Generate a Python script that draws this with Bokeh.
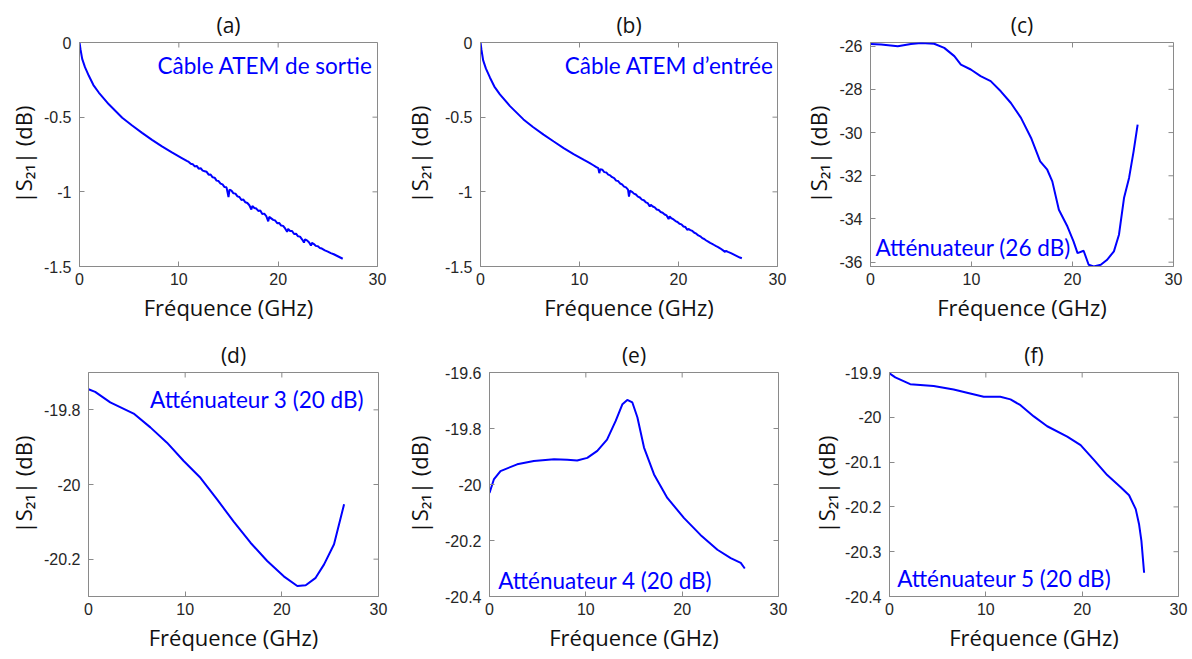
import math
from bokeh.plotting import figure
from bokeh.layouts import column, row
from bokeh.models import FixedTicker, Label
from bokeh.embed import file_html
from bokeh.resources import INLINE

# ---------------- data ----------------
x_ticks = [0, 10, 20, 30]
x_label = "Fréquence (GHz)"
y_label = "|S₂₁| (dB)"
panel_titles = ["(a)", "(b)", "(c)", "(d)", "(e)", "(f)"]
annotations = ["Câble ATEM de sortie", "Câble ATEM d’entrée", "Atténuateur (26 dB)",
               "Atténuateur 3 (20 dB)", "Atténuateur 4 (20 dB)", "Atténuateur 5 (20 dB)"]

a_freq = [0, 0.1, 0.27, 0.55, 0.94, 1.4, 1.94, 2.95, 4.3, 5.3, 6.3, 7.3, 8.3, 9.3, 10.3, 10.8,
          11.0, 11.2, 11.4, 11.6, 11.8, 12.0, 12.2, 12.4, 12.6, 12.8, 13.0, 13.2, 13.4, 13.6,
          13.8, 14.0, 14.2, 14.4, 14.6, 14.8, 15.0, 15.1, 15.3, 15.5, 15.7, 15.9, 16.1, 16.3,
          16.5, 16.7, 16.9, 17.1, 17.3, 17.4, 17.6, 17.8, 18.0, 18.2, 18.4, 18.6, 18.8, 19.0,
          19.1, 19.3, 19.5, 19.7, 19.9, 20.1, 20.3, 20.5, 20.7, 20.9, 21.0, 21.2, 21.4, 21.6,
          21.8, 22.0, 22.2, 22.4, 22.6, 22.7, 22.9, 23.1, 23.3, 23.4, 23.6, 23.8, 24.0, 24.2,
          24.4, 24.7, 25.0, 25.3, 25.6, 25.9, 26.2, 26.5]
a_s21 = [0, -0.045, -0.11, -0.165, -0.223, -0.285, -0.335, -0.414, -0.504, -0.556, -0.605,
         -0.652, -0.696, -0.736, -0.774, -0.793,
         -0.800, -0.812, -0.815, -0.830, -0.826, -0.845, -0.842, -0.858, -0.862, -0.866,
         -0.885, -0.884, -0.903, -0.905, -0.925, -0.928, -0.945, -0.950, -0.968, -0.970,
         -1.035, -0.985, -0.992, -1.010, -1.012, -1.030, -1.035, -1.055, -1.052, -1.070,
         -1.075, -1.090, -1.118, -1.095, -1.108, -1.112, -1.128, -1.125, -1.148, -1.146,
         -1.162, -1.198, -1.168, -1.178, -1.188, -1.192, -1.210, -1.208, -1.226, -1.228,
         -1.245, -1.268, -1.248, -1.262, -1.262, -1.282, -1.280, -1.298, -1.300, -1.318,
         -1.340, -1.318, -1.325, -1.338, -1.360, -1.342, -1.350, -1.362, -1.365, -1.376,
         -1.380, -1.392, -1.400, -1.410, -1.418, -1.428, -1.438, -1.448]

b_freq = [0, 0.1, 0.27, 0.55, 0.95, 1.4, 1.96, 2.98, 4.34, 5.3, 6.37, 7.4, 8.4, 9.4, 10.45,
          11.0, 11.4, 11.7, 11.9, 12.0, 12.1, 12.3, 12.5, 12.7, 12.9, 13.1, 13.3, 13.5, 13.7,
          13.9, 14.1, 14.3, 14.5, 14.7, 14.9, 15.0, 15.1, 15.3, 15.5, 15.7, 15.9, 16.1, 16.3,
          16.5, 16.7, 16.9, 17.1, 17.2, 17.4, 17.6, 17.8, 18.0, 18.2, 18.4, 18.6, 18.8, 19.0,
          19.1, 19.3, 19.5, 19.7, 19.9, 20.1, 20.3, 20.5, 20.7, 20.9, 21.0, 21.2, 21.4, 21.6,
          21.8, 22.0, 22.2, 22.4, 22.6, 22.8, 23.0, 23.2, 23.4, 23.6, 23.8, 24.0, 24.2, 24.5,
          24.7, 24.8, 25.0, 25.3, 25.6, 25.9, 26.2, 26.4]
b_s21 = [0, -0.05, -0.12, -0.175, -0.234, -0.295, -0.347, -0.426, -0.515, -0.566, -0.617,
         -0.663, -0.707, -0.747, -0.786,
         -0.806, -0.822, -0.835, -0.842, -0.875, -0.848, -0.852, -0.868, -0.870, -0.885,
         -0.890, -0.902, -0.908, -0.925, -0.928, -0.944, -0.950, -0.965, -0.970, -0.985,
         -1.032, -0.992, -1.000, -1.012, -1.018, -1.032, -1.038, -1.052, -1.056, -1.070,
         -1.076, -1.098, -1.086, -1.098, -1.104, -1.118, -1.122, -1.135, -1.140, -1.152,
         -1.158, -1.182, -1.165, -1.178, -1.185, -1.196, -1.202, -1.214, -1.218, -1.232,
         -1.236, -1.256, -1.248, -1.256, -1.262, -1.274, -1.280, -1.292, -1.298, -1.310,
         -1.316, -1.326, -1.334, -1.342, -1.348, -1.356, -1.364, -1.370, -1.378, -1.392,
         -1.402, -1.396, -1.402, -1.410, -1.420, -1.430, -1.440, -1.445]

c_freq = [0, 1.05, 2.7, 4.0, 5.0, 6.3, 7.3, 8.3, 8.95, 9.93, 10.9, 11.9, 12.9, 13.9, 14.9,
          15.9, 16.8, 17.5, 18.0, 18.65, 19.5, 20.1, 20.5, 21.1, 21.6, 22.1, 22.8, 23.4, 24.1,
          24.6, 25.1, 25.6, 26.05, 26.45]
c_s21 = [-25.9, -25.92, -26.0, -25.9, -25.85, -25.89, -26.08, -26.46, -26.85, -27.08, -27.39,
         -27.62, -28.09, -28.63, -29.32, -30.25, -31.33, -31.72, -32.26, -33.57, -34.35,
         -35.04, -35.58, -35.47, -36.12, -36.2, -36.12, -35.9, -35.5, -34.73, -33.03, -32.1,
         -30.87, -29.63]

d_freq = [0, 0.69, 2.25, 4.67, 6.4, 8.12, 9.85, 11.58, 13.3, 15.04, 16.76, 18.49, 20.2, 21.6,
          22.47, 23.5, 24.37, 25.4, 26.44]
d_s21 = [-19.745, -19.752, -19.78, -19.81, -19.847, -19.888, -19.937, -19.982, -20.04, -20.1,
         -20.156, -20.205, -20.246, -20.272, -20.27, -20.25, -20.214, -20.16, -20.053]

e_freq = [0, 0.45, 1.14, 2.87, 4.6, 6.7, 8.07, 9.1, 10.15, 11.19, 12.2, 13.1, 13.8, 14.3,
          14.83, 15.35, 16.04, 17.08, 18.46, 20.2, 21.9, 23.66, 25.04, 26.08, 26.5]
e_s21 = [-20.03, -19.982, -19.952, -19.928, -19.916, -19.91, -19.912, -19.914, -19.905, -19.88,
         -19.84, -19.773, -19.713, -19.698, -19.707, -19.76, -19.868, -19.964, -20.048, -20.12,
         -20.18, -20.233, -20.263, -20.28, -20.3]

f_freq = [0, 0.6, 2.15, 4.58, 6.66, 8.05, 9.78, 11.5, 12.56, 13.6, 14.98, 16.37, 18.45, 19.84,
          21.22, 22.6, 24.0, 24.87, 25.56, 25.9, 26.15, 26.43]
f_s21 = [-19.902, -19.911, -19.926, -19.93, -19.938, -19.945, -19.954, -19.954, -19.96, -19.973,
         -19.998, -20.02, -20.043, -20.062, -20.095, -20.129, -20.156, -20.174, -20.205, -20.238,
         -20.276, -20.347]

y_ranges = [(-1.5, 0), (-1.5, 0), (-36.2, -25.83), (-20.3, -19.7), (-20.4, -19.6), (-20.4, -19.9)]
y_ticks = [[-1.5, -1, -0.5, 0], [-1.5, -1, -0.5, 0], [-36, -34, -32, -30, -28, -26],
           [-20.2, -20, -19.8], [-20.4, -20.2, -20, -19.8, -19.6],
           [-20.4, -20.3, -20.2, -20.1, -20, -19.9]]
y_tick_labels = [{-1.5: "-1.5", -1: "-1", -0.5: "-0.5", 0: "0"},
                 {-1.5: "-1.5", -1: "-1", -0.5: "-0.5", 0: "0"},
                 {-36: "-36", -34: "-34", -32: "-32", -30: "-30", -28: "-28", -26: "-26"},
                 {-20.2: "-20.2", -20: "-20", -19.8: "-19.8"},
                 {-20.4: "-20.4", -20.2: "-20.2", -20: "-20", -19.8: "-19.8", -19.6: "-19.6"},
                 {-20.4: "-20.4", -20.3: "-20.3", -20.2: "-20.2", -20.1: "-20.1", -20: "-20",
                  -19.9: "-19.9"}]

# annotation anchor (data units) and alignment
ann_pos = [(29.5, -0.151, "right"), (29.6, -0.151, "right"), (0.5, -35.32, "left"),
           (28.5, -19.771, "right"), (0.9, -20.343, "left"), (0.8, -20.36, "left")]

# layout: (width, height, border_left, border_right, border_top, border_bottom, ylabel standoff)
layouts = [(400, 330, 79, 23, 42, 64, 3), (400, 330, 79, 23, 42, 64, 8),
           (391, 330, 69, 18, 42, 64, 3),
           (400, 328, 88, 22, 42, 62, 3), (400, 328, 89, 22, 42, 62, 8),
           (391, 328, 89, 13, 42, 62, 1)]

series = [(a_freq, a_s21), (b_freq, b_s21), (c_freq, c_s21),
          (d_freq, d_s21), (e_freq, e_s21), (f_freq, f_s21)]

FRAME = "#8a8a8a"
TICKTXT = "#262626"
LABEL_COLOR = "#111111"
LABEL_FONT = "Open Sans"
TICK_FONT = "Liberation Sans"
ANN_FONT = "Lato"


def style_axis(ax, ticks, labels):
    ax.ticker = FixedTicker(ticks=ticks)
    ax.axis_line_color = FRAME
    ax.major_tick_line_color = FRAME
    ax.major_tick_in = 5
    ax.major_tick_out = 0
    ax.minor_tick_line_color = None
    ax.major_label_text_font = TICK_FONT
    ax.major_label_text_font_size = "16px"
    ax.major_label_text_color = TICKTXT
    ax.major_label_overrides = labels


def make_panel(i):
    w, h, bl, br, bt, bb, ystand = layouts[i]
    yr = y_ranges[i]
    p = figure(width=w, height=h, x_range=(0, 30), y_range=yr,
               output_backend="svg", toolbar_location=None,
               min_border_left=bl, min_border_right=br,
               min_border_top=bt, min_border_bottom=bb)
    p.grid.visible = False
    p.outline_line_color = FRAME
    p.outline_line_width = 1

    p.title.text = panel_titles[i]
    p.title.align = "center"
    p.title.text_font = LABEL_FONT
    p.title.text_font_size = "21px"
    p.title.text_font_style = "normal"
    p.title.text_color = LABEL_COLOR
    p.title.standoff = 8

    xs, ys = series[i]
    p.line(xs, ys, line_color="#0000ff", line_width=2)

    style_axis(p.xaxis[0], x_ticks, {0: "0", 10: "10", 20: "20", 30: "30"})
    style_axis(p.yaxis[0], y_ticks[i], y_tick_labels[i])
    p.xaxis[0].major_label_standoff = 6
    p.yaxis[0].major_label_standoff = 8
    p.xaxis[0].axis_label = x_label
    p.yaxis[0].axis_label = y_label
    for ax in (p.xaxis[0], p.yaxis[0]):
        ax.axis_label_text_font = LABEL_FONT
        ax.axis_label_text_font_size = "22px"
        ax.axis_label_text_font_style = "normal"
        ax.axis_label_text_color = LABEL_COLOR
    p.xaxis[0].axis_label_standoff = 4
    p.yaxis[0].axis_label_standoff = ystand

    # inward ticks on the top and right edges of the box (5 px long)
    p.ray(x=x_ticks, y=[yr[1]] * len(x_ticks), length=5, length_units="screen",
          angle=-math.pi / 2, line_color=FRAME, line_width=1)
    p.ray(x=[30] * len(y_ticks[i]), y=y_ticks[i], length=5, length_units="screen",
          angle=math.pi, line_color=FRAME, line_width=1)

    ax_, ay_, al = ann_pos[i]
    p.add_layout(Label(x=ax_, y=ay_, text=annotations[i], text_align=al,
                       text_baseline="alphabetic", text_color="#0000ff",
                       text_font=ANN_FONT, text_font_size="22.5px"))
    return p


panels = [make_panel(i) for i in range(6)]
layout = column(row(*panels[:3]), row(*panels[3:]))

open("out.html", "w").write(file_html(layout, INLINE))
